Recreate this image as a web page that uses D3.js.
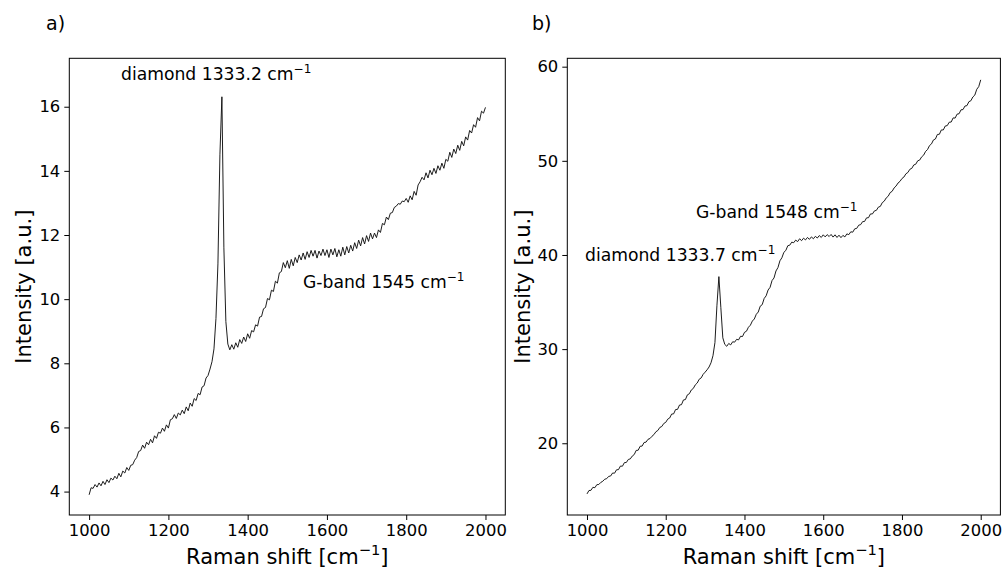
<!DOCTYPE html>
<html>
<head>
<meta charset="utf-8">
<script src="https://cdn.jsdelivr.net/npm/d3@7"></script>
<style>
  body { margin: 0; background: #fff; }
  svg { display: block; font-family: "DejaVu Sans", sans-serif; }
</style>
</head>
<body>
<div id="chart"></div>
<script>
// raman shift grid (cm^-1), one reading every 5 cm^-1
var shift = d3.range(1000, 2001, 5);

// panel a) intensities
var intensityA = [
  3.90, 4.12, 4.10, 4.22, 4.14, 4.27, 4.18, 4.32, 4.22, 4.37,
  4.28, 4.42, 4.36, 4.48, 4.40, 4.57, 4.46, 4.64, 4.58, 4.75,
  4.66, 4.82, 4.84, 4.98, 5.06, 5.25, 5.28, 5.45, 5.35, 5.54,
  5.46, 5.63, 5.52, 5.74, 5.66, 5.85, 5.82, 5.98, 5.88, 6.08,
  5.98, 6.24, 6.27, 6.40, 6.28, 6.45, 6.39, 6.54, 6.43, 6.64,
  6.52, 6.76, 6.66, 6.90, 6.84, 7.06, 7.02, 7.26, 7.30, 7.54,
  7.62, 7.82, 8.05, 8.45, 9.40, 11.10, 14.50, 16.31, 11.60, 9.30,
  8.60, 8.42, 8.58, 8.44, 8.64, 8.50, 8.74, 8.62, 8.82, 8.68,
  8.92, 8.78, 9.02, 8.98, 9.20, 9.16, 9.44, 9.46, 9.70, 9.74,
  10.02, 9.98, 10.28, 10.24, 10.56, 10.50, 10.82, 10.86, 11.14, 10.98,
  11.20, 10.96, 11.24, 11.04, 11.30, 11.14, 11.38, 11.22, 11.44, 11.24,
  11.48, 11.30, 11.52, 11.34, 11.52, 11.28, 11.50, 11.36, 11.56, 11.36,
  11.54, 11.30, 11.56, 11.38, 11.58, 11.32, 11.54, 11.34, 11.62, 11.38,
  11.64, 11.44, 11.68, 11.50, 11.76, 11.58, 11.84, 11.66, 11.92, 11.72,
  11.98, 11.80, 12.06, 11.88, 12.06, 11.92, 12.16, 12.08, 12.36, 12.32,
  12.56, 12.48, 12.68, 12.70, 12.86, 12.90, 12.98, 12.96, 13.06, 13.04,
  13.14, 13.02, 13.22, 13.10, 13.36, 13.24, 13.56, 13.66, 13.80, 13.72,
  13.94, 13.78, 14.02, 13.88, 14.08, 13.92, 14.16, 14.02, 14.24, 14.08,
  14.36, 14.30, 14.58, 14.42, 14.68, 14.54, 14.80, 14.64, 14.92, 14.78,
  15.06, 14.96, 15.26, 15.18, 15.44, 15.36, 15.66, 15.56, 15.86, 15.80,
  15.98
];

// panel b) intensities
var intensityB = [
  14.62, 14.98, 15.00, 15.32, 15.28, 15.60, 15.62, 15.84, 15.96, 16.18,
  16.24, 16.48, 16.52, 16.84, 16.82, 17.18, 17.20, 17.58, 17.56, 17.94,
  17.96, 18.28, 18.34, 18.64, 18.80, 19.24, 19.26, 19.68, 19.70, 20.08,
  20.12, 20.42, 20.50, 20.74, 20.92, 21.22, 21.36, 21.68, 21.78, 22.10,
  22.22, 22.56, 22.68, 23.10, 23.12, 23.58, 23.60, 24.06, 24.10, 24.60,
  24.64, 25.14, 25.26, 25.66, 25.82, 26.20, 26.40, 26.80, 26.94, 27.32,
  27.55, 27.80, 28.10, 28.55, 29.30, 30.70, 34.60, 37.70, 34.40, 31.20,
  30.50, 30.30, 30.60, 30.45, 30.78, 30.74, 31.04, 30.98, 31.36, 31.34,
  31.78, 31.90, 32.32, 32.54, 32.98, 33.20, 33.70, 33.94, 34.56, 34.72,
  35.38, 35.66, 36.28, 36.56, 37.28, 37.56, 38.30, 38.66, 39.38, 39.70,
  40.28, 40.48, 40.98, 41.04, 41.36, 41.30, 41.58, 41.42, 41.72, 41.52,
  41.78, 41.60, 41.86, 41.66, 41.92, 41.72, 41.98, 41.80, 42.06, 41.86,
  42.14, 41.92, 42.16, 41.96, 42.18, 41.90, 42.14, 41.86, 42.10, 41.84,
  42.08, 41.92, 42.24, 42.16, 42.46, 42.42, 42.78, 42.82, 43.16, 43.22,
  43.54, 43.56, 43.94, 43.96, 44.36, 44.36, 44.68, 44.74, 45.08, 45.16,
  45.56, 45.72, 46.06, 46.24, 46.62, 46.76, 47.12, 47.32, 47.64, 47.82,
  48.12, 48.28, 48.62, 48.76, 49.10, 49.20, 49.56, 49.64, 50.00, 50.08,
  50.42, 50.60, 51.00, 51.20, 51.62, 51.80, 52.22, 52.32, 52.80, 52.82,
  53.28, 53.28, 53.70, 53.74, 54.10, 54.12, 54.56, 54.54, 54.96, 55.00,
  55.42, 55.44, 55.82, 55.86, 56.28, 56.38, 56.78, 56.98, 57.60, 57.88,
  58.60
];

// tick labels
var xTicks = [1000, 1200, 1400, 1600, 1800, 2000];
var yTicksA = [4, 6, 8, 10, 12, 14, 16];
var yTicksB = [20, 30, 40, 50, 60];

var W = 1006, H = 568;

var svg = d3.select("#chart").append("svg")
    .attr("width", W)
    .attr("height", H);

// text with a "−1" superscript, plus optional suffix after it
function supText(g, x, y, main, size, anchor, suffix) {
  var t = g.append("text")
      .attr("x", x).attr("y", y)
      .attr("font-size", size)
      .attr("text-anchor", anchor || "start")
      .attr("fill", "#000");
  t.append("tspan").text(main);
  t.append("tspan").attr("dy", -size * 0.42).attr("font-size", size * 0.7).text("\u22121");
  if (suffix) t.append("tspan").attr("dy", size * 0.42).text(suffix);
  return t;
}

function drawPanel(p) {
  var x = d3.scaleLinear().domain([950, 2050]).range([p.left, p.right]);
  var y = d3.scaleLinear().domain(p.yDomain).range([p.bottom, p.top]);

  var g = svg.append("g");

  // x axis
  var xa = g.append("g")
      .attr("transform", "translate(0," + p.bottom + ")")
      .call(d3.axisBottom(x).tickValues(xTicks).tickFormat(d3.format("d"))
        .tickSize(5).tickPadding(4).tickSizeOuter(0));
  xa.select(".domain").remove();
  xa.selectAll("text").attr("font-size", 16.4).attr("font-family", "DejaVu Sans").attr("fill", "#000");
  xa.selectAll("line").attr("stroke", "#000").attr("stroke-width", 1);

  // y axis
  var ya = g.append("g")
      .attr("transform", "translate(" + p.left + ",0)")
      .call(d3.axisLeft(y).tickValues(p.yTicks).tickFormat(d3.format("d"))
        .tickSize(5).tickPadding(4).tickSizeOuter(0));
  ya.select(".domain").remove();
  ya.selectAll("text").attr("font-size", 16.4).attr("font-family", "DejaVu Sans").attr("fill", "#000");
  ya.selectAll("line").attr("stroke", "#000").attr("stroke-width", 1);

  // frame
  g.append("rect")
      .attr("x", p.left).attr("y", p.top)
      .attr("width", p.right - p.left).attr("height", p.bottom - p.top)
      .attr("fill", "none").attr("stroke", "#000").attr("stroke-width", 1);

  // spectrum
  var line = d3.line()
      .x(function(d, i) { return x(shift[i]); })
      .y(function(d) { return y(d); });
  g.append("path")
      .datum(p.values)
      .attr("d", line)
      .attr("fill", "none")
      .attr("stroke", "#111")
      .attr("stroke-width", 0.95)
      .attr("stroke-linejoin", "round");

  // axis labels
  supText(g, (p.left + p.right) / 2, 564, "Raman shift [cm", 21, "middle", "]");

  g.append("text")
      .attr("transform", "translate(" + p.yLabelX + "," + ((p.top + p.bottom) / 2) + ") rotate(-90)")
      .attr("text-anchor", "middle")
      .attr("font-size", 21)
      .text("Intensity [a.u.]");

  // panel letter
  g.append("text")
      .attr("x", p.letterX).attr("y", 30)
      .attr("font-size", 19)
      .text(p.letter);

  // annotations
  p.notes.forEach(function(n) {
    supText(g, n.x, n.y, n.text, 17.2, "start");
  });
}

drawPanel({
  left: 69.3, right: 505.3, top: 58.3, bottom: 515,
  yDomain: [3.27, 17.51], yTicks: yTicksA, values: intensityA,
  yLabelX: 31, letter: "a)", letterX: 46,
  notes: [
    {x: 121, y: 80, text: "diamond 1333.2 cm"},
    {x: 303, y: 288, text: "G-band 1545 cm"}
  ]
});

drawPanel({
  left: 567.3, right: 1000.4, top: 58.3, bottom: 515,
  yDomain: [12.38, 60.89], yTicks: yTicksB, values: intensityB,
  yLabelX: 530, letter: "b)", letterX: 532,
  notes: [
    {x: 585, y: 261, text: "diamond 1333.7 cm"},
    {x: 696, y: 218, text: "G-band 1548 cm"}
  ]
});
</script>
</body>
</html>
